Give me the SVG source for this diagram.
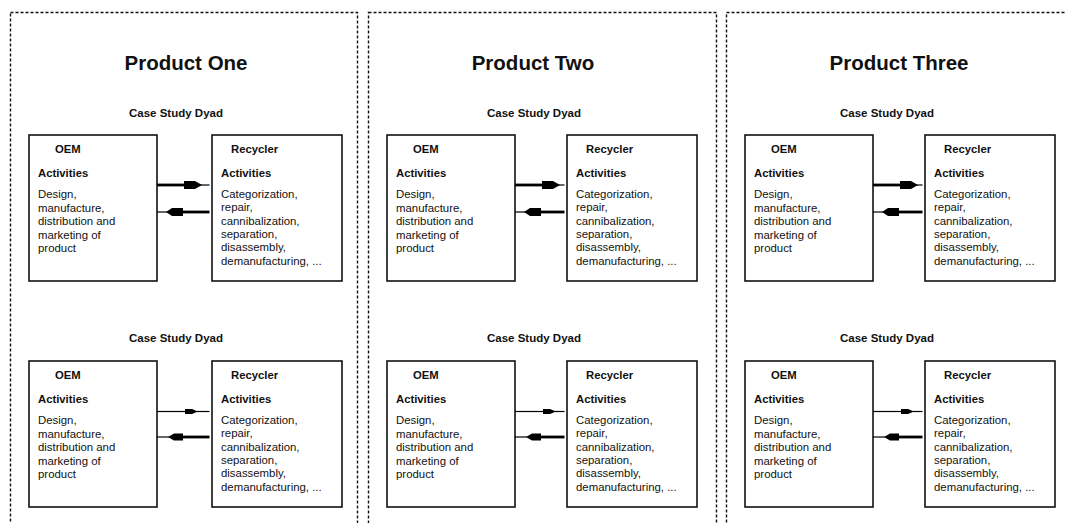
<svg xmlns="http://www.w3.org/2000/svg" width="1065" height="523" viewBox="0 0 1065 523">
<style>
.panel{fill:none;stroke:#111;stroke-width:1.4;stroke-dasharray:3 2}
.box{fill:#fff;stroke:#111;stroke-width:1.6}
text{font-family:"Liberation Sans",Arial,sans-serif;fill:#111}
.title{font-size:20.5px;font-weight:bold;text-anchor:middle}
.csd{font-size:11.5px;font-weight:bold;text-anchor:middle}
.lbl{font-size:11.3px;font-weight:bold}
.body{font-size:11.4px}
.thick{stroke:#000;stroke-width:2.8;fill:none}
.thin{stroke:#000;stroke-width:1.2;fill:none}
.head{fill:#000}
</style>
<rect width="1065" height="523" fill="#fff"/>
<defs>
<g id="oem">
<rect class="box" x="0" y="0" width="128" height="146"/>
<text class="lbl" x="26" y="18">OEM</text>
<text class="lbl" x="9" y="42">Activities</text>
<text class="body" x="9" y="63">Design,</text>
<text class="body" x="9" y="77">manufacture,</text>
<text class="body" x="9" y="90">distribution and</text>
<text class="body" x="9" y="104">marketing of</text>
<text class="body" x="9" y="117">product</text>
</g>
<g id="rec">
<rect class="box" x="0" y="0" width="130" height="146"/>
<text class="lbl" x="19" y="18">Recycler</text>
<text class="lbl" x="9" y="42">Activities</text>
<text class="body" x="9" y="63">Categorization,</text>
<text class="body" x="9" y="76">repair,</text>
<text class="body" x="9" y="90">cannibalization,</text>
<text class="body" x="9" y="103">separation,</text>
<text class="body" x="9" y="116">disassembly,</text>
<text class="body" x="9" y="130">demanufacturing, ...</text>
</g>
</defs>

<g id="panels">
<rect class="panel" x="10.5" y="12.5" width="347" height="540"/>
<rect class="panel" x="368.5" y="12.5" width="348" height="540"/>
<rect class="panel" x="726.5" y="12.5" width="400" height="540"/>
<text class="title" x="186" y="70">Product One</text>
<text class="title" x="533" y="70">Product Two</text>
<text class="title" x="899" y="70">Product Three</text>
<text class="csd" x="176" y="117">Case Study Dyad</text>
<text class="csd" x="534" y="117">Case Study Dyad</text>
<text class="csd" x="887" y="117">Case Study Dyad</text>
<text class="csd" x="176" y="342">Case Study Dyad</text>
<text class="csd" x="534" y="342">Case Study Dyad</text>
<text class="csd" x="887" y="342">Case Study Dyad</text>
</g>

<g id="p1-top-oem" transform="translate(29,135)"><use href="#oem"/></g>
<g id="p1-top-recycler" transform="translate(212,135)"><use href="#rec"/></g>
<g id="p1-bot-oem" transform="translate(29,361)"><use href="#oem"/></g>
<g id="p1-bot-recycler" transform="translate(212,361)"><use href="#rec"/></g>
<g id="p2-top-oem" transform="translate(387,135)"><use href="#oem"/></g>
<g id="p2-top-recycler" transform="translate(567,135)"><use href="#rec"/></g>
<g id="p2-bot-oem" transform="translate(387,361)"><use href="#oem"/></g>
<g id="p2-bot-recycler" transform="translate(567,361)"><use href="#rec"/></g>
<g id="p3-top-oem" transform="translate(745,135)"><use href="#oem"/></g>
<g id="p3-top-recycler" transform="translate(925,135)"><use href="#rec"/></g>
<g id="p3-bot-oem" transform="translate(745,361)"><use href="#oem"/></g>
<g id="p3-bot-recycler" transform="translate(925,361)"><use href="#rec"/></g>

<g id="connectors">
<g id="c1">
<path class="thick" d="M157,185H186"/><polygon class="head" points="184,181 195,181 202,185 195,189 184,189"/><path class="thin" d="M200,185H209.5"/>
<path class="thin" d="M157,212H168"/><polygon class="head" points="166,212 172,208 183,208 183,216 172,216"/><path class="thick" d="M182,212H209.5"/>
<path class="thin" d="M157,411.5H186"/><polygon class="head" points="185,409 192,409 198,411.5 192,414 185,414"/><path class="thin" d="M197,411.5H209.5"/>
<path class="thin" d="M157,437H169"/><polygon class="head" points="168,437 174,433.5 183,433.5 183,440.5 174,440.5"/><path class="thick" d="M182,437H209.5"/>
</g>
<g id="c2" transform="translate(358,0)">
<path class="thick" d="M157,185H186"/><polygon class="head" points="184,181 195,181 202,185 195,189 184,189"/><path class="thin" d="M200,185H206.5"/>
<path class="thin" d="M157,212H168"/><polygon class="head" points="166,212 172,208 183,208 183,216 172,216"/><path class="thick" d="M182,212H206.5"/>
<path class="thin" d="M157,411.5H186"/><polygon class="head" points="185,409 192,409 198,411.5 192,414 185,414"/><path class="thin" d="M197,411.5H206.5"/>
<path class="thin" d="M157,437H169"/><polygon class="head" points="168,437 174,433.5 183,433.5 183,440.5 174,440.5"/><path class="thick" d="M182,437H206.5"/>
</g>
<g id="c3" transform="translate(716,0)">
<path class="thick" d="M157,185H186"/><polygon class="head" points="184,181 195,181 202,185 195,189 184,189"/><path class="thin" d="M200,185H206.5"/>
<path class="thin" d="M157,212H168"/><polygon class="head" points="166,212 172,208 183,208 183,216 172,216"/><path class="thick" d="M182,212H206.5"/>
<path class="thin" d="M157,411.5H186"/><polygon class="head" points="185,409 192,409 198,411.5 192,414 185,414"/><path class="thin" d="M197,411.5H206.5"/>
<path class="thin" d="M157,437H169"/><polygon class="head" points="168,437 174,433.5 183,433.5 183,440.5 174,440.5"/><path class="thick" d="M182,437H206.5"/>
</g>
</g>
</svg>
